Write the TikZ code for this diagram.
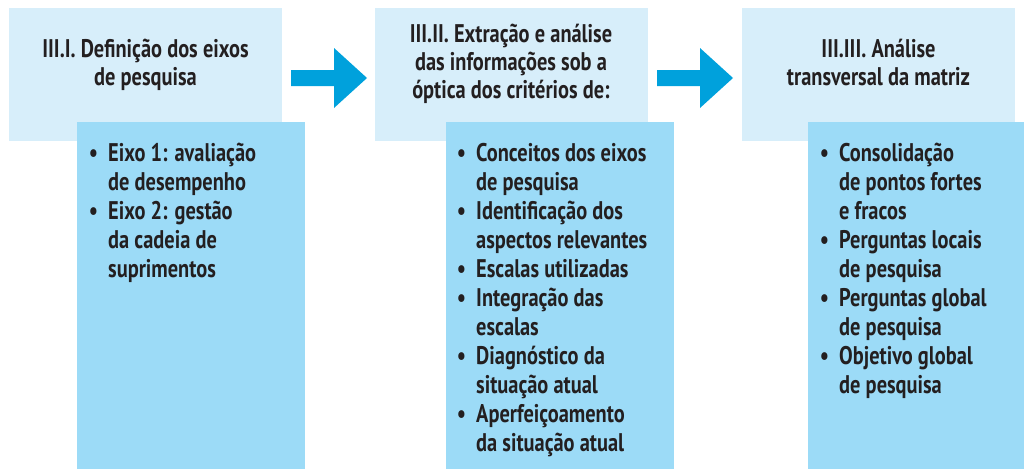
\documentclass[tikz,border=0pt]{standalone}
\usepackage{fontspec}
\setmainfont{PT Sans}[FakeStretch=0.8]
\usepackage{xcolor}
\definecolor{headblue}{HTML}{D7EEFA}
\definecolor{bodyblue}{HTML}{9CDBF7}
\definecolor{arrowblue}{HTML}{00A1DC}
\definecolor{inkgray}{HTML}{231F20}
\newcommand{\bul}{\llap{\textbullet\hspace{10pt}}}

\begin{document}
\begin{tikzpicture}[x=1pt,y=-1pt,
    txt/.style={text=inkgray,inner sep=0pt,font=\bfseries\fontsize{25.5}{28.2}\selectfont},
    listtxt/.style={txt,align=left,anchor=base west,font=\bfseries\fontsize{25.5}{29}\selectfont}]
\useasboundingbox (0,0) rectangle (1024,469);

% header boxes
\begin{scope}[every node/.style={fill=headblue,inner sep=0pt,minimum width=273pt,minimum height=133pt}]
    \node (H1) at (145.5,74.5) {};
    \node (H2) at (511,74.5) {};
    \node (H3) at (878.5,74.5) {};
\end{scope}

% body boxes
\begin{scope}[every node/.style={fill=bodyblue,inner sep=0pt,minimum width=228pt,minimum height=347pt}]
    \node (B1) at (191,295.5) {};
    \node (B2) at (560,295.5) {};
    \node (B3) at (922,295.5) {};
\end{scope}

% block arrows
\foreach \x in {291,657}
    \fill[arrowblue] (\x,70) -- ++(43,0) -- ++(0,-22) -- ++(33,30)
        -- ++(-33,30) -- ++(0,-22) -- ++(-43,0) -- cycle;

% titles (anchored on the last line)
\node[txt,align=center,anchor=base] (T1) at (145.5,85.2) {III.I. Definição dos eixos\\de pesquisa};
\node[txt,align=center,anchor=base] (T2) at (511,98.4) {III.II. Extração e análise\\das informações sob a\\óptica dos critérios de:};
\node[txt,align=center,anchor=base] (T3) at (878.5,85.2) {III.III. Análise\\transversal da matriz};

% lists (anchored on the last line)
\node[listtxt] (L1) at (108,277)
    {\bul Eixo 1: avaliação\\de desempenho\\\bul Eixo 2: gestão\\da cadeia de\\suprimentos};
\node[listtxt] (L2) at (476,451)
    {\bul Conceitos dos eixos\\de pesquisa\\\bul Identificação dos\\aspectos relevantes\\\bul Escalas utilizadas\\
     \bul Integração das\\escalas\\\bul Diagnóstico da\\situação atual\\\bul Aperfeiçoamento\\da situação atual};
\node[listtxt] (L3) at (839,393)
    {\bul Consolidação\\de pontos fortes\\e fracos\\\bul Perguntas locais\\de pesquisa\\
     \bul Perguntas global\\de pesquisa\\\bul Objetivo global\\de pesquisa};
\end{tikzpicture}
\end{document}
